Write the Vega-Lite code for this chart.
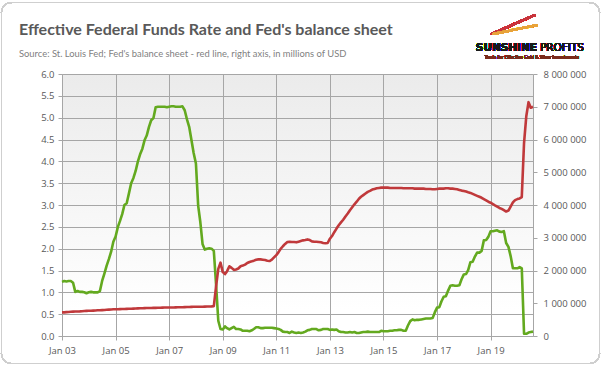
{
  "$schema": "https://vega.github.io/schema/vega-lite/v6.json",
  "width": 471,
  "height": 262,
  "autosize": "none",
  "padding": {"left": 62, "top": 74, "right": 69, "bottom": 34},
  "background": "white",
  "config": {
    "view": {"stroke": null, "fill": {"gradient": "linear", "x1": 0, "y1": 0, "x2": 0, "y2": 1, "stops": [{"offset": 0, "color": "#ebebeb"}, {"offset": 0.9, "color": "#ffffff"}, {"offset": 1, "color": "#ffffff"}]}},
    "locale": {"number": {"decimal": ".", "thousands": " ", "grouping": [3], "currency": ["", ""]}},
    "axis": {"labelFont": "Open Sans", "labelFontSize": 9.5, "labelColor": "#595959", "gridColor": "#a6a6a6", "gridOpacity": 1, "domainColor": "#a6a6a6", "tickColor": "#a6a6a6", "tickSize": 4, "title": null}
  },
  "title": {
    "text": "Effective Federal Funds Rate and Fed's balance sheet",
    "subtitle": "Source: St. Louis Fed; Fed's balance sheet - red line, right axis, in millions of USD",
    "anchor": "start",
    "frame": "group",
    "dx": -43,
    "offset": -56,
    "font": "Lato",
    "fontSize": 16,
    "fontWeight": "bold",
    "color": "#595959",
    "subtitleFont": "Lato",
    "subtitleFontSize": 9.4,
    "subtitleColor": "#7f7f7f",
    "subtitlePadding": 12
  },
  "data": {"values": [
    {"d":"2003-01-01","r":1.24,"b":720000},{"d":"2003-02-01","r":1.26,"b":722000},{"d":"2003-03-01","r":1.25,"b":728000},{"d":"2003-04-01","r":1.26,"b":735000},{"d":"2003-05-01","r":1.26,"b":740000},{"d":"2003-06-01","r":1.22,"b":743000},{"d":"2003-07-01","r":1.01,"b":746000},{"d":"2003-08-01","r":1.03,"b":750000},{"d":"2003-09-01","r":1.01,"b":752000},{"d":"2003-10-01","r":1.01,"b":757000},{"d":"2003-11-01","r":1.0,"b":762000},{"d":"2003-12-01","r":0.98,"b":768000},
    {"d":"2004-01-01","r":1.0,"b":770000},{"d":"2004-02-01","r":1.01,"b":772000},{"d":"2004-03-01","r":1.0,"b":776000},{"d":"2004-04-01","r":1.0,"b":780000},{"d":"2004-05-01","r":1.0,"b":784000},{"d":"2004-06-01","r":1.03,"b":788000},{"d":"2004-07-01","r":1.26,"b":791000},{"d":"2004-08-01","r":1.43,"b":795000},{"d":"2004-09-01","r":1.61,"b":800000},{"d":"2004-10-01","r":1.76,"b":805000},{"d":"2004-11-01","r":1.93,"b":810000},{"d":"2004-12-01","r":2.16,"b":815000},
    {"d":"2005-01-01","r":2.28,"b":815000},{"d":"2005-02-01","r":2.5,"b":817000},{"d":"2005-03-01","r":2.63,"b":820000},{"d":"2005-04-01","r":2.79,"b":823000},{"d":"2005-05-01","r":3.0,"b":826000},{"d":"2005-06-01","r":3.04,"b":828000},{"d":"2005-07-01","r":3.26,"b":830000},{"d":"2005-08-01","r":3.5,"b":833000},{"d":"2005-09-01","r":3.62,"b":836000},{"d":"2005-10-01","r":3.78,"b":840000},{"d":"2005-11-01","r":4.0,"b":843000},{"d":"2005-12-01","r":4.16,"b":847000},
    {"d":"2006-01-01","r":4.29,"b":847000},{"d":"2006-02-01","r":4.49,"b":850000},{"d":"2006-03-01","r":4.59,"b":853000},{"d":"2006-04-01","r":4.79,"b":855000},{"d":"2006-05-01","r":4.94,"b":856000},{"d":"2006-06-01","r":4.99,"b":858000},{"d":"2006-07-01","r":5.24,"b":860000},{"d":"2006-08-01","r":5.25,"b":862000},{"d":"2006-09-01","r":5.25,"b":864000},{"d":"2006-10-01","r":5.25,"b":866000},{"d":"2006-11-01","r":5.25,"b":868000},{"d":"2006-12-01","r":5.24,"b":872000},
    {"d":"2007-01-01","r":5.25,"b":870000},{"d":"2007-02-01","r":5.26,"b":870000},{"d":"2007-03-01","r":5.26,"b":872000},{"d":"2007-04-01","r":5.25,"b":874000},{"d":"2007-05-01","r":5.25,"b":876000},{"d":"2007-06-01","r":5.25,"b":878000},{"d":"2007-07-01","r":5.26,"b":880000},{"d":"2007-08-01","r":5.17,"b":882000},{"d":"2007-09-01","r":4.96,"b":884000},{"d":"2007-10-01","r":4.79,"b":886000},{"d":"2007-11-01","r":4.49,"b":890000},{"d":"2007-12-01","r":4.19,"b":892000},
    {"d":"2008-01-01","r":3.95,"b":892000},{"d":"2008-02-01","r":2.98,"b":895000},{"d":"2008-03-01","r":2.61,"b":895000},{"d":"2008-04-01","r":2.1,"b":895000},{"d":"2008-05-01","r":1.98,"b":897000},{"d":"2008-06-01","r":2.0,"b":900000},{"d":"2008-07-01","r":2.01,"b":903000},{"d":"2008-08-01","r":2.0,"b":905000},{"d":"2008-09-01","r":1.95,"b":910000},{"d":"2008-10-01","r":1.2,"b":1500000},{"d":"2008-11-01","r":0.35,"b":2050000},{"d":"2008-12-01","r":0.16,"b":2240000},
    {"d":"2009-01-01","r":0.15,"b":1950000},{"d":"2009-02-01","r":0.22,"b":1890000},{"d":"2009-03-01","r":0.18,"b":1980000},{"d":"2009-04-01","r":0.15,"b":2130000},{"d":"2009-05-01","r":0.18,"b":2080000},{"d":"2009-06-01","r":0.21,"b":2020000},{"d":"2009-07-01","r":0.16,"b":2030000},{"d":"2009-08-01","r":0.16,"b":2060000},{"d":"2009-09-01","r":0.15,"b":2130000},{"d":"2009-10-01","r":0.12,"b":2150000},{"d":"2009-11-01","r":0.12,"b":2180000},{"d":"2009-12-01","r":0.12,"b":2230000},
    {"d":"2010-01-01","r":0.11,"b":2260000},{"d":"2010-02-01","r":0.13,"b":2280000},{"d":"2010-03-01","r":0.16,"b":2300000},{"d":"2010-04-01","r":0.2,"b":2330000},{"d":"2010-05-01","r":0.2,"b":2340000},{"d":"2010-06-01","r":0.18,"b":2340000},{"d":"2010-07-01","r":0.18,"b":2330000},{"d":"2010-08-01","r":0.19,"b":2320000},{"d":"2010-09-01","r":0.19,"b":2300000},{"d":"2010-10-01","r":0.19,"b":2290000},{"d":"2010-11-01","r":0.19,"b":2330000},{"d":"2010-12-01","r":0.18,"b":2400000},
    {"d":"2011-01-01","r":0.17,"b":2470000},{"d":"2011-02-01","r":0.16,"b":2560000},{"d":"2011-03-01","r":0.14,"b":2660000},{"d":"2011-04-01","r":0.1,"b":2740000},{"d":"2011-05-01","r":0.09,"b":2810000},{"d":"2011-06-01","r":0.09,"b":2870000},{"d":"2011-07-01","r":0.07,"b":2880000},{"d":"2011-08-01","r":0.1,"b":2870000},{"d":"2011-09-01","r":0.08,"b":2870000},{"d":"2011-10-01","r":0.07,"b":2860000},{"d":"2011-11-01","r":0.08,"b":2880000},{"d":"2011-12-01","r":0.07,"b":2900000},
    {"d":"2012-01-01","r":0.08,"b":2920000},{"d":"2012-02-01","r":0.1,"b":2930000},{"d":"2012-03-01","r":0.13,"b":2950000},{"d":"2012-04-01","r":0.14,"b":2930000},{"d":"2012-05-01","r":0.16,"b":2890000},{"d":"2012-06-01","r":0.16,"b":2880000},{"d":"2012-07-01","r":0.16,"b":2880000},{"d":"2012-08-01","r":0.13,"b":2870000},{"d":"2012-09-01","r":0.14,"b":2860000},{"d":"2012-10-01","r":0.16,"b":2840000},{"d":"2012-11-01","r":0.16,"b":2830000},{"d":"2012-12-01","r":0.16,"b":2840000},
    {"d":"2013-01-01","r":0.14,"b":2970000},{"d":"2013-02-01","r":0.15,"b":3060000},{"d":"2013-03-01","r":0.14,"b":3170000},{"d":"2013-04-01","r":0.15,"b":3280000},{"d":"2013-05-01","r":0.11,"b":3380000},{"d":"2013-06-01","r":0.09,"b":3470000},{"d":"2013-07-01","r":0.09,"b":3550000},{"d":"2013-08-01","r":0.08,"b":3650000},{"d":"2013-09-01","r":0.08,"b":3740000},{"d":"2013-10-01","r":0.09,"b":3840000},{"d":"2013-11-01","r":0.08,"b":3930000},{"d":"2013-12-01","r":0.09,"b":4020000},
    {"d":"2014-01-01","r":0.07,"b":4100000},{"d":"2014-02-01","r":0.07,"b":4190000},{"d":"2014-03-01","r":0.08,"b":4250000},{"d":"2014-04-01","r":0.09,"b":4300000},{"d":"2014-05-01","r":0.09,"b":4350000},{"d":"2014-06-01","r":0.1,"b":4400000},{"d":"2014-07-01","r":0.09,"b":4430000},{"d":"2014-08-01","r":0.09,"b":4470000},{"d":"2014-09-01","r":0.09,"b":4490000},{"d":"2014-10-01","r":0.09,"b":4510000},{"d":"2014-11-01","r":0.09,"b":4520000},{"d":"2014-12-01","r":0.12,"b":4530000},
    {"d":"2015-01-01","r":0.11,"b":4530000},{"d":"2015-02-01","r":0.11,"b":4530000},{"d":"2015-03-01","r":0.11,"b":4530000},{"d":"2015-04-01","r":0.12,"b":4520000},{"d":"2015-05-01","r":0.12,"b":4520000},{"d":"2015-06-01","r":0.13,"b":4520000},{"d":"2015-07-01","r":0.13,"b":4520000},{"d":"2015-08-01","r":0.14,"b":4520000},{"d":"2015-09-01","r":0.14,"b":4520000},{"d":"2015-10-01","r":0.12,"b":4510000},{"d":"2015-11-01","r":0.12,"b":4510000},{"d":"2015-12-01","r":0.24,"b":4510000},
    {"d":"2016-01-01","r":0.34,"b":4510000},{"d":"2016-02-01","r":0.38,"b":4510000},{"d":"2016-03-01","r":0.36,"b":4500000},{"d":"2016-04-01","r":0.37,"b":4500000},{"d":"2016-05-01","r":0.37,"b":4500000},{"d":"2016-06-01","r":0.38,"b":4500000},{"d":"2016-07-01","r":0.39,"b":4500000},{"d":"2016-08-01","r":0.4,"b":4490000},{"d":"2016-09-01","r":0.4,"b":4490000},{"d":"2016-10-01","r":0.4,"b":4490000},{"d":"2016-11-01","r":0.41,"b":4480000},{"d":"2016-12-01","r":0.54,"b":4480000},
    {"d":"2017-01-01","r":0.65,"b":4490000},{"d":"2017-02-01","r":0.66,"b":4500000},{"d":"2017-03-01","r":0.79,"b":4500000},{"d":"2017-04-01","r":0.9,"b":4500000},{"d":"2017-05-01","r":0.91,"b":4510000},{"d":"2017-06-01","r":1.04,"b":4510000},{"d":"2017-07-01","r":1.15,"b":4500000},{"d":"2017-08-01","r":1.16,"b":4500000},{"d":"2017-09-01","r":1.15,"b":4490000},{"d":"2017-10-01","r":1.15,"b":4480000},{"d":"2017-11-01","r":1.16,"b":4460000},{"d":"2017-12-01","r":1.3,"b":4440000},
    {"d":"2018-01-01","r":1.41,"b":4430000},{"d":"2018-02-01","r":1.42,"b":4410000},{"d":"2018-03-01","r":1.51,"b":4390000},{"d":"2018-04-01","r":1.69,"b":4370000},{"d":"2018-05-01","r":1.7,"b":4340000},{"d":"2018-06-01","r":1.82,"b":4310000},{"d":"2018-07-01","r":1.91,"b":4280000},{"d":"2018-08-01","r":1.91,"b":4250000},{"d":"2018-09-01","r":1.95,"b":4220000},{"d":"2018-10-01","r":2.19,"b":4180000},{"d":"2018-11-01","r":2.2,"b":4140000},{"d":"2018-12-01","r":2.27,"b":4100000},
    {"d":"2019-01-01","r":2.4,"b":4070000},{"d":"2019-02-01","r":2.4,"b":4030000},{"d":"2019-03-01","r":2.41,"b":3990000},{"d":"2019-04-01","r":2.42,"b":3950000},{"d":"2019-05-01","r":2.39,"b":3910000},{"d":"2019-06-01","r":2.38,"b":3880000},{"d":"2019-07-01","r":2.4,"b":3840000},{"d":"2019-08-01","r":2.13,"b":3800000},{"d":"2019-09-01","r":2.04,"b":3830000},{"d":"2019-10-01","r":1.83,"b":3950000},{"d":"2019-11-01","r":1.55,"b":4080000},{"d":"2019-12-01","r":1.55,"b":4150000},
    {"d":"2020-01-01","r":1.55,"b":4180000},{"d":"2020-02-01","r":1.58,"b":4200000},{"d":"2020-03-01","r":1.55,"b":4240000},{"d":"2020-04-01","r":0.05,"b":5900000},{"d":"2020-05-01","r":0.05,"b":6700000},{"d":"2020-06-01","r":0.08,"b":7140000},{"d":"2020-07-01","r":0.09,"b":6970000},{"d":"2020-08-01","r":0.1,"b":7000000}
  ]},
  "layer": [
    {
      "mark": {"type": "line", "color": "#63a91f", "strokeWidth": 2.6, "strokeJoin": "round"},
      "encoding": {
        "x": {"field": "d", "type": "temporal", "scale": {"domain": [{"year": 2003, "month": 1, "date": 1, "utc": true}, {"year": 2020, "month": 8, "date": 1, "utc": true}]},
              "axis": {"values": [{"year": 2003, "month": 1, "date": 1, "utc": true},{"year": 2005, "month": 1, "date": 1, "utc": true},{"year": 2007, "month": 1, "date": 1, "utc": true},{"year": 2009, "month": 1, "date": 1, "utc": true},{"year": 2011, "month": 1, "date": 1, "utc": true},{"year": 2013, "month": 1, "date": 1, "utc": true},{"year": 2015, "month": 1, "date": 1, "utc": true},{"year": 2017, "month": 1, "date": 1, "utc": true},{"year": 2019, "month": 1, "date": 1, "utc": true}], "labelExpr": "utcFormat(datum.value, '%b %y')", "grid": true, "labelFlush": false, "labelAlign": "center", "labelPadding": 5}},
        "y": {"field": "r", "type": "quantitative", "scale": {"domain": [0, 6], "nice": false},
              "axis": {"orient": "left", "values": [0,0.5,1,1.5,2,2.5,3,3.5,4,4.5,5,5.5,6], "format": ".1f", "grid": true, "labelPadding": 4}}
      }
    },
    {
      "mark": {"type": "line", "color": "#c0393b", "strokeWidth": 2.6, "strokeJoin": "round"},
      "encoding": {
        "x": {"field": "d", "type": "temporal"},
        "y": {"field": "b", "type": "quantitative", "scale": {"domain": [0, 8000000], "nice": false},
              "axis": {"orient": "right", "values": [0,1000000,2000000,3000000,4000000,5000000,6000000,7000000,8000000], "format": ",d", "grid": false, "labelPadding": 6}}
      }
    },
    {
      "mark": {"type": "rect", "fill": null, "stroke": "#cfcfcf", "strokeWidth": 1, "cornerRadius": 10},
      "encoding": {
        "x": {"datum": {"year": 2000, "month": 9, "date": 28, "utc": true}, "type": "temporal"},
        "x2": {"datum": {"year": 2023, "month": 1, "date": 25, "utc": true}},
        "y": {"datum": 7.637, "type": "quantitative", "scale": {"domain": [0, 6], "nice": false}, "axis": null},
        "y2": {"datum": -0.63}
      }
    },
    {
      "mark": {"type": "rule", "color": "#c8343c", "strokeWidth": 2.2, "strokeCap": "round"},
      "encoding": {
        "x": {"datum": {"year": 2019, "month": 1, "date": 19, "utc": true}, "type": "temporal"},
        "x2": {"datum": {"year": 2020, "month": 8, "date": 27, "utc": true}},
        "y": {"datum": 6.92, "type": "quantitative", "scale": {"domain": [0, 6], "nice": false}, "axis": null},
        "y2": {"datum": 7.35}
      }
    },
    {
      "mark": {"type": "rule", "color": "#e8a33a", "strokeWidth": 2.2, "strokeCap": "round"},
      "encoding": {
        "x": {"datum": {"year": 2019, "month": 2, "date": 10, "utc": true}, "type": "temporal"},
        "x2": {"datum": {"year": 2020, "month": 9, "date": 24, "utc": true}},
        "y": {"datum": 6.92, "type": "quantitative", "scale": {"domain": [0, 6], "nice": false}, "axis": null},
        "y2": {"datum": 7.12}
      }
    },
    {
      "mark": {"type": "text", "text": "SUNSHINE", "align": "right", "baseline": "alphabetic", "font": "DejaVu Sans", "fontWeight": "bold", "fontSize": 10.5, "color": "#1a1a1a"},
      "encoding": {
        "x": {"datum": {"year": 2020, "month": 9, "date": 24, "utc": true}, "type": "temporal"},
        "y": {"datum": 6.52, "type": "quantitative", "scale": {"domain": [0, 6], "nice": false}, "axis": null}
      }
    },
    {
      "mark": {"type": "text", "text": "PROFITS", "align": "left", "baseline": "alphabetic", "font": "DejaVu Sans", "fontSize": 10.5, "color": "#1a1a1a"},
      "encoding": {
        "x": {"datum": {"year": 2020, "month": 11, "date": 3, "utc": true}, "type": "temporal"},
        "y": {"datum": 6.52, "type": "quantitative", "scale": {"domain": [0, 6], "nice": false}, "axis": null}
      }
    },
    {
      "mark": {"type": "text", "text": "Tools for Effective Gold & Silver Investments", "align": "center", "baseline": "alphabetic", "font": "Open Sans", "fontSize": 4.6, "color": "#7a2a1a"},
      "encoding": {
        "x": {"datum": {"year": 2020, "month": 7, "date": 16, "utc": true}, "type": "temporal"},
        "y": {"datum": 6.343, "type": "quantitative", "scale": {"domain": [0, 6], "nice": false}, "axis": null}
      }
    }
  ],
  "resolve": {"scale": {"y": "independent"}}
}
